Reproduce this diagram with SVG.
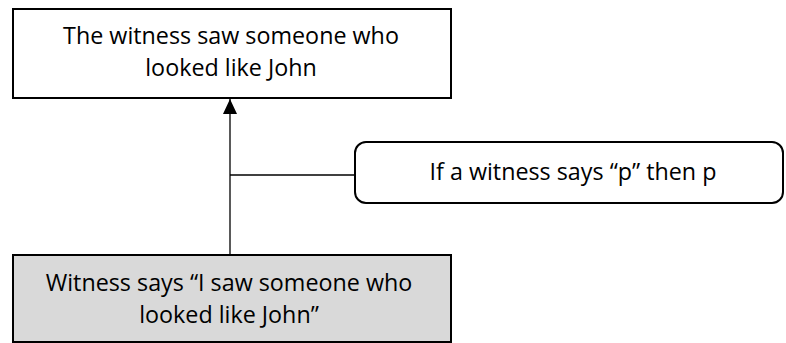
<svg xmlns="http://www.w3.org/2000/svg" width="786" height="343" viewBox="0 0 786 343">
<style>
.box{stroke:#000;stroke-width:2;}
.t{font-family:"Open Sans","Liberation Sans",sans-serif;font-size:23.3px;fill:#000;text-anchor:middle;}
.c{stroke:#000;stroke-width:1.3;fill:none;}
</style>
<defs>
<marker id="ah" markerWidth="15" markerHeight="14" refX="15" refY="7" orient="auto" markerUnits="userSpaceOnUse">
<path d="M0,0 L15,7 L0,14 Z" fill="#000"/>
</marker>
</defs>
<rect width="786" height="343" fill="#fff"/>
<g id="connectors">
<line class="c" x1="230" y1="255" x2="230" y2="99" marker-end="url(#ah)"/>
<line class="c" x1="230" y1="175" x2="355" y2="175"/>
</g>
<g id="conclusion">
<rect class="box" x="13" y="9" width="438" height="89" fill="#fff"/>
<text class="t" x="231" y="44">The witness saw someone who</text>
<text class="t" x="231" y="76">looked like John</text>
</g>
<g id="warrant">
<rect class="box" x="355" y="142" width="428" height="61" rx="11" fill="#fff"/>
<text class="t" x="573" y="180">If a witness says “p” then p</text>
</g>
<g id="premise">
<rect class="box" x="13" y="255" width="438" height="87" fill="#d9d9d9"/>
<text class="t" x="229" y="291">Witness says “I saw someone who</text>
<text class="t" x="229" y="323">looked like John”</text>
</g>
</svg>
